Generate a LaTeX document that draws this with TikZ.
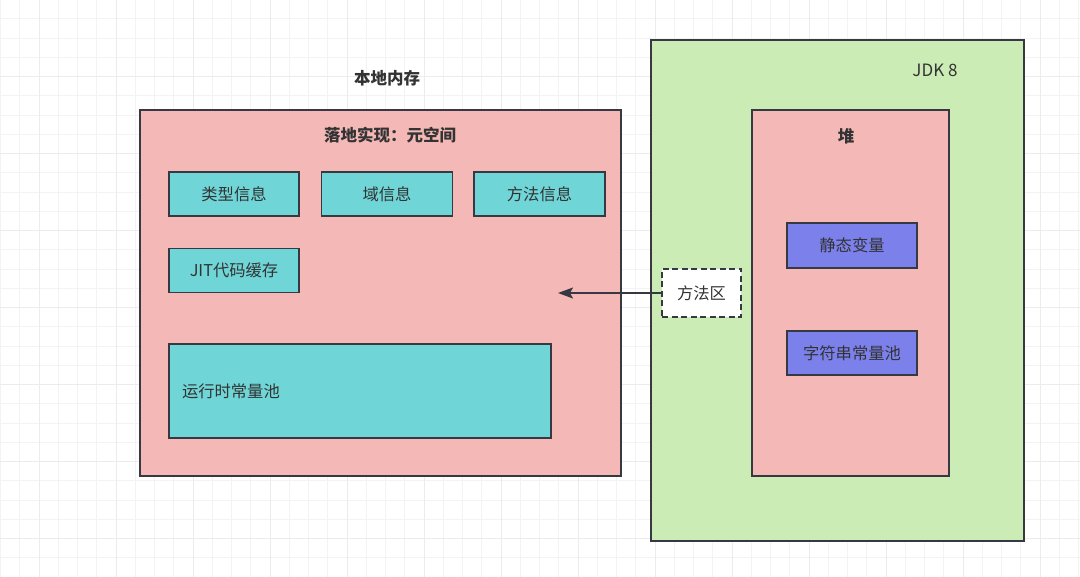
\documentclass[tikz,border=0pt]{standalone}
\usepackage{fontspec}
\setmainfont{Noto Sans CJK SC}
\usetikzlibrary{arrows.meta}
\definecolor{pinkc}{RGB}{244,185,183}
\definecolor{tealc}{RGB}{111,213,214}
\definecolor{bluec}{RGB}{123,128,235}
\definecolor{greenc}{RGB}{203,237,181}
\definecolor{edgec}{RGB}{54,57,65}
\definecolor{textc}{RGB}{51,51,51}
\definecolor{gridminor}{RGB}{243,243,243}
\definecolor{gridmajor}{RGB}{236,236,236}
\tikzset{
  boxbase/.style={draw=edgec, line width=1.9pt, inner sep=0pt, text=textc, font=\fontsize{16.3}{19}\selectfont},
  pinkbox/.style={boxbase, fill=pinkc},
  tealbox/.style={boxbase, fill=tealc},
  bluebox/.style={boxbase, fill=bluec},
  greenbox/.style={boxbase, fill=greenc},
  dashbox/.style={boxbase, fill=white, dash pattern=on 6pt off 3.5pt},
  titlelbl/.style={text=textc, inner sep=0pt, font=\fontsize{16.5}{19}\selectfont\bfseries},
  plainlbl/.style={text=textc, inner sep=0pt, font=\fontsize{17}{20}\selectfont},
  conn/.style={draw=edgec, line width=1.7pt, -{Stealth[length=15pt,width=11pt,inset=3pt]}}
}
\begin{document}
\begin{tikzpicture}[x=1pt,y=-1pt]
\useasboundingbox (0,0) rectangle (1080,577);
\fill[white] (0,0) rectangle (1080,577);
% grid
\foreach \i in {0,...,56} {
  \draw[gridminor, line width=1pt] (0.5+19.25*\i,0) -- (0.5+19.25*\i,577);
}
\foreach \j in {0,...,30} {
  \draw[gridminor, line width=1pt] (0,-0.3+19.25*\j) -- (1080,-0.3+19.25*\j);
}
\foreach \i in {0,...,14} {
  \draw[gridmajor, line width=1pt] (39+77*\i,0) -- (39+77*\i,577);
}
\foreach \j in {0,...,7} {
  \draw[gridmajor, line width=1pt] (0,-0.3+77*\j) -- (1080,-0.3+77*\j);
}
% left side
\node[titlelbl] (local) at (387,78) {本地内存};
\node[pinkbox, minimum width=481pt, minimum height=366pt] (meta) at (380.5,293) {};
\node[titlelbl] (metatitle) at (390,135) {落地实现：元空间};
\node[tealbox, minimum width=130pt, minimum height=44pt] (type) at (234,194) {类型信息};
\node[tealbox, minimum width=131pt, minimum height=44pt] (field) at (387,194) {域信息};
\node[tealbox, minimum width=131pt, minimum height=44pt] (method) at (539.5,194) {方法信息};
\node[tealbox, minimum width=130pt, minimum height=44pt] (jit) at (234,270.5) {JIT代码缓存};
\node[tealbox, minimum width=382pt, minimum height=94pt, text width=356pt, align=left, inner xsep=13pt] (rcp) at (360,391) {运行时常量池};
% right side
\node[greenbox, minimum width=373pt, minimum height=501pt] (jdk) at (837.5,290.5) {};
\node[plainlbl] (jdklbl) at (935,70) {JDK 8};
\node[pinkbox, minimum width=197pt, minimum height=366pt] (heap) at (850.5,293) {};
\node[titlelbl] (heaplbl) at (846,136) {堆};
\node[bluebox, minimum width=130pt, minimum height=45pt] (static) at (852,245.5) {静态变量};
\node[bluebox, minimum width=130pt, minimum height=44pt] (strpool) at (852,353) {字符串常量池};
\node[dashbox, minimum width=79pt, minimum height=48pt] (mzone) at (701.5,293) {方法区};
\coordinate (tip) at (558,293);
\draw[conn] (mzone.west) -- (tip);
\end{tikzpicture}
\end{document}
